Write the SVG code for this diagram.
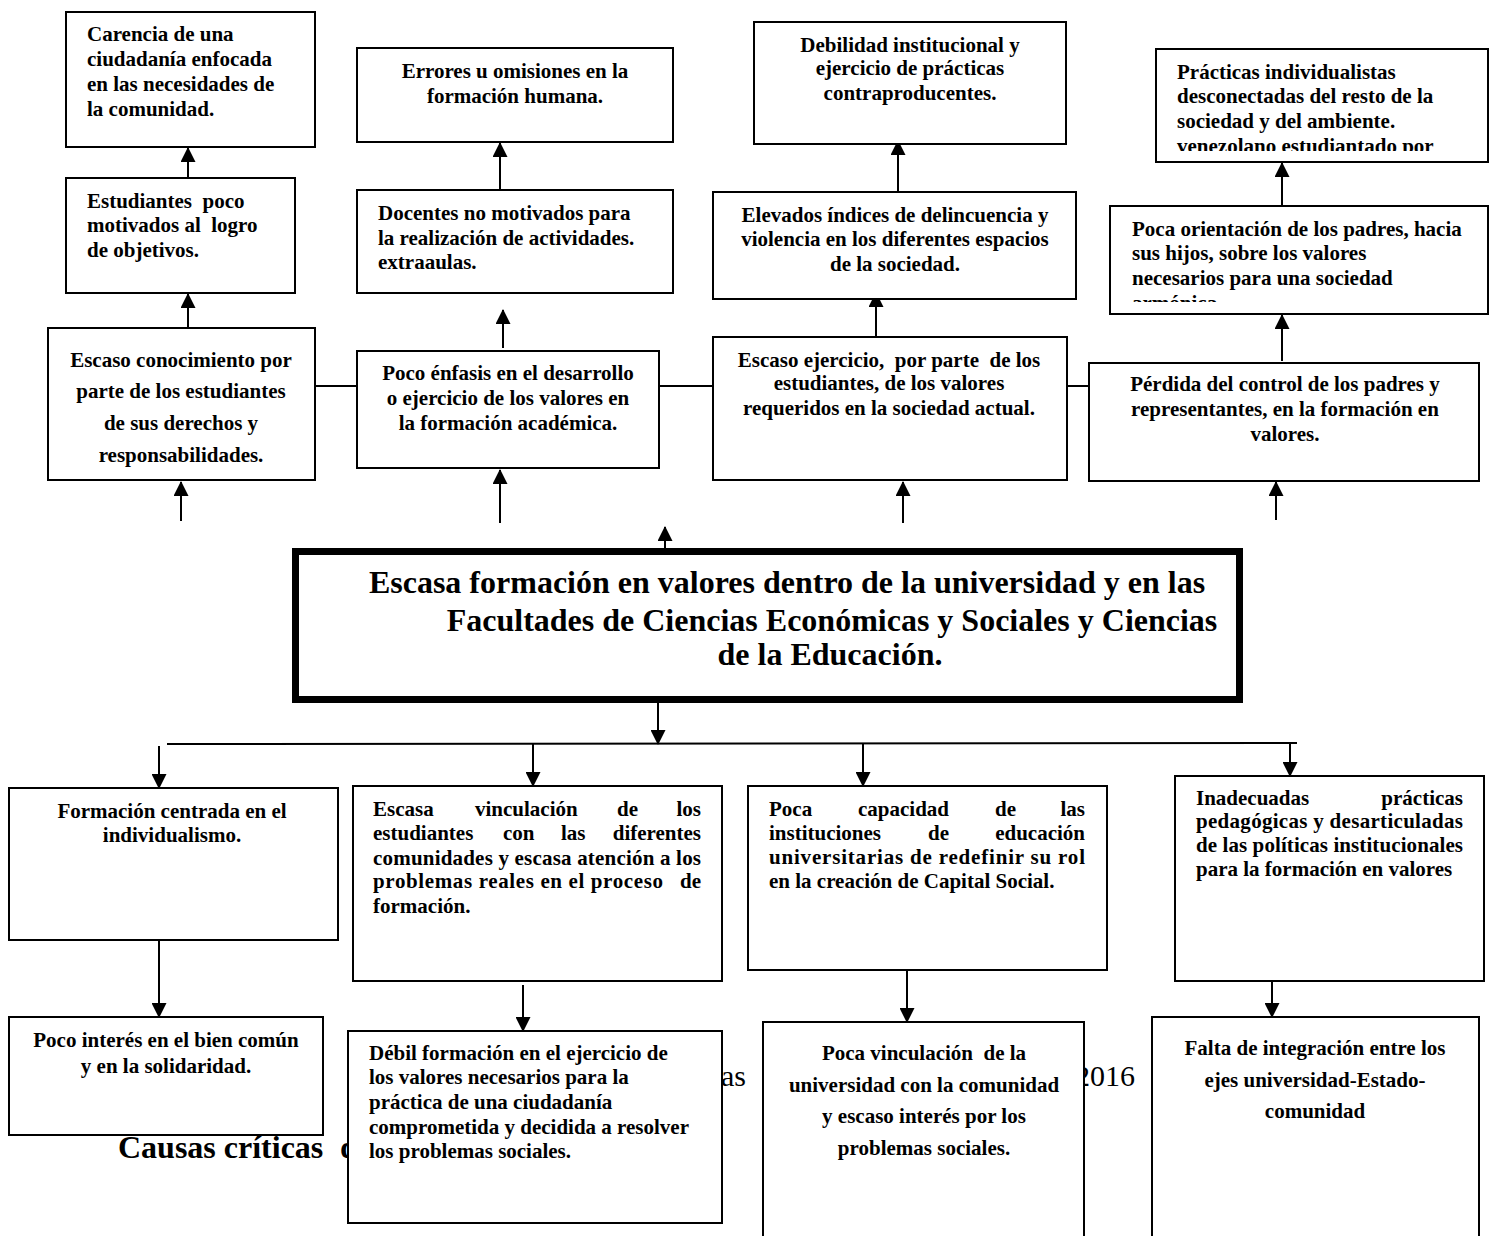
<svg xmlns="http://www.w3.org/2000/svg" width="1494" height="1236" viewBox="0 0 1494 1236">
<style>
.box{fill:#fff;stroke:#000;stroke-width:2}
.main{fill:#fff;stroke:#000;stroke-width:7}
.t{font-family:"Liberation Serif","Times New Roman",serif;font-weight:bold;font-size:21px;fill:#000}
.c{text-anchor:middle}
.e{text-anchor:end}
.big{font-family:"Liberation Serif","Times New Roman",serif;font-weight:bold;font-size:32px;fill:#000;text-anchor:middle}
.bg{font-family:"Liberation Serif","Times New Roman",serif;font-size:30px;fill:#000}
.ln{stroke:#000;stroke-width:2;fill:none}
.ar{stroke:#000;stroke-width:2;fill:none;marker-end:url(#ah)}
</style>
<defs>
<marker id="ah" markerUnits="userSpaceOnUse" markerWidth="15" markerHeight="15" refX="14" refY="7.5" orient="auto">
<path d="M0,0 L15,7.5 L0,15 z" fill="#000"/>
</marker>
<clipPath id="clipP"><rect x="1157" y="50" width="330" height="101"/></clipPath>
<clipPath id="clipO"><rect x="1111" y="207" width="376" height="95"/></clipPath>
</defs>
<rect width="1494" height="1236" fill="#fff"/>

<g id="background-text">
<text class="bg" style="font-weight:bold;font-size:32px" x="118" y="1158">Causas críticas<tspan x="340">d</tspan></text>
<text class="bg e" x="746" y="1086">as</text>
<text class="bg e" x="1135" y="1086">2016</text>
</g>

<g id="connectors">
<line class="ar" x1="188" y1="178" x2="188" y2="148"/>
<line class="ar" x1="188" y1="328" x2="188" y2="294"/>
<line class="ar" x1="181" y1="521" x2="181" y2="482"/>
<line class="ar" x1="500" y1="190" x2="500" y2="143"/>
<line class="ar" x1="503" y1="348" x2="503" y2="310"/>
<line class="ar" x1="500" y1="523" x2="500" y2="470"/>
<line class="ar" x1="898" y1="192" x2="898" y2="141"/>
<line class="ar" x1="876" y1="337" x2="876" y2="293"/>
<line class="ar" x1="903" y1="523" x2="903" y2="482"/>
<line class="ar" x1="1282" y1="205" x2="1282" y2="163"/>
<line class="ar" x1="1282" y1="361" x2="1282" y2="315"/>
<line class="ar" x1="1276" y1="520" x2="1276" y2="482"/>
<line class="ar" x1="665" y1="548" x2="665" y2="527"/>
<line class="ln" x1="315" y1="386" x2="357" y2="386"/>
<line class="ln" x1="659" y1="386" x2="713" y2="386"/>
<line class="ln" x1="1067" y1="386" x2="1089" y2="386"/>
<line class="ar" x1="658" y1="703" x2="658" y2="744"/>
<line class="ln" x1="167" y1="744" x2="1297" y2="743"/>
<line class="ar" x1="159" y1="746" x2="159" y2="788"/>
<line class="ar" x1="533" y1="744" x2="533" y2="786"/>
<line class="ar" x1="863" y1="744" x2="863" y2="786"/>
<line class="ar" x1="1290" y1="742" x2="1290" y2="776"/>
<line class="ar" x1="159" y1="940" x2="159" y2="1017"/>
<line class="ar" x1="523" y1="985" x2="523" y2="1031"/>
<line class="ar" x1="907" y1="970" x2="907" y2="1022"/>
<line class="ar" x1="1272" y1="981" x2="1272" y2="1017"/>
</g>

<g id="n-carencia">
<rect class="box" x="66" y="12" width="249" height="135"/>
<text class="t" x="87" y="41">Carencia de una</text>
<text class="t" x="87" y="66">ciudadanía enfocada</text>
<text class="t" x="87" y="91">en las necesidades de</text>
<text class="t" x="87" y="116">la comunidad.</text>
</g>
<g id="n-estudiantes">
<rect class="box" x="66" y="178" width="229" height="115"/>
<text class="t" x="87" y="208" xml:space="preserve">Estudiantes  poco</text>
<text class="t" x="87" y="232" xml:space="preserve">motivados al  logro</text>
<text class="t" x="87" y="257">de objetivos.</text>
</g>
<g id="n-escaso-conocimiento">
<rect class="box" x="48" y="328" width="267" height="152"/>
<text class="t c" x="181" y="367">Escaso conocimiento por</text>
<text class="t c" x="181" y="398">parte de los estudiantes</text>
<text class="t c" x="181" y="430">de sus derechos y</text>
<text class="t c" x="181" y="462">responsabilidades.</text>
</g>
<g id="n-errores">
<rect class="box" x="357" y="48" width="316" height="94"/>
<text class="t c" x="515" y="78">Errores u omisiones en la</text>
<text class="t c" x="515" y="103">formación humana.</text>
</g>
<g id="n-docentes">
<rect class="box" x="357" y="190" width="316" height="103"/>
<text class="t" x="378" y="220">Docentes no motivados para</text>
<text class="t" x="378" y="245">la realización de actividades.</text>
<text class="t" x="378" y="269">extraaulas.</text>
</g>
<g id="n-poco-enfasis">
<rect class="box" x="357" y="351" width="302" height="117"/>
<text class="t c" x="508" y="380">Poco énfasis en el desarrollo</text>
<text class="t c" x="508" y="405">o ejercicio de los valores en</text>
<text class="t c" x="508" y="430">la formación académica.</text>
</g>
<g id="n-debilidad">
<rect class="box" x="754" y="22" width="312" height="122"/>
<text class="t c" x="910" y="52">Debilidad institucional y</text>
<text class="t c" x="910" y="75">ejercicio de prácticas</text>
<text class="t c" x="910" y="100">contraproducentes.</text>
</g>
<g id="n-elevados">
<rect class="box" x="713" y="192" width="363" height="107"/>
<text class="t c" x="895" y="222">Elevados índices de delincuencia y</text>
<text class="t c" x="895" y="246">violencia en los diferentes espacios</text>
<text class="t c" x="895" y="271">de la sociedad.</text>
</g>
<g id="n-escaso-ejercicio">
<rect class="box" x="713" y="337" width="354" height="143"/>
<text class="t c" x="889" y="367" xml:space="preserve">Escaso ejercicio,  por parte  de los</text>
<text class="t c" x="889" y="390">estudiantes, de los valores</text>
<text class="t c" x="889" y="415">requeridos en la sociedad actual.</text>
</g>
<g id="n-practicas">
<rect class="box" x="1156" y="49" width="332" height="113"/>
<g clip-path="url(#clipP)">
<text class="t" x="1177" y="79">Prácticas individualistas</text>
<text class="t" x="1177" y="103">desconectadas del resto de la</text>
<text class="t" x="1177" y="128">sociedad y del ambiente.</text>
<text class="t" x="1177" y="153">venezolano estudiantado por</text>
</g>
</g>
<g id="n-poca-orientacion">
<rect class="box" x="1110" y="206" width="378" height="108"/>
<g clip-path="url(#clipO)">
<text class="t" x="1132" y="236">Poca orientación de los padres, hacia</text>
<text class="t" x="1132" y="260">sus hijos, sobre los valores</text>
<text class="t" x="1132" y="285">necesarios para una sociedad</text>
<text class="t" x="1132" y="310">armónica.</text>
</g>
</g>
<g id="n-perdida">
<rect class="box" x="1089" y="363" width="390" height="118"/>
<text class="t c" x="1285" y="391">Pérdida del control de los padres y</text>
<text class="t c" x="1285" y="416">representantes, en la formación en</text>
<text class="t c" x="1285" y="441">valores.</text>
</g>

<g id="n-central">
<rect class="main" x="295.5" y="551.5" width="944" height="148"/>
<text class="big" x="787" y="593">Escasa formación en valores dentro de la universidad y en las</text>
<text class="big" x="832" y="631">Facultades de Ciencias Económicas y Sociales y Ciencias</text>
<text class="big" x="830" y="665">de la Educación.</text>
</g>

<g id="n-formacion-individualismo">
<rect class="box" x="9" y="788" width="329" height="152"/>
<text class="t c" x="172" y="818">Formación centrada en el</text>
<text class="t c" x="172" y="842">individualismo.</text>
</g>
<g id="n-escasa-vinculacion">
<rect class="box" x="353" y="786" width="369" height="195"/>
<text class="t" x="373" y="816">Escasa<tspan x="475">vinculación</tspan><tspan x="617">de</tspan><tspan x="701" text-anchor="end">los</tspan></text>
<text class="t" x="373" y="840">estudiantes<tspan x="503">con</tspan><tspan x="561">las</tspan><tspan x="701" text-anchor="end">diferentes</tspan></text>
<text class="t" x="373" y="865" textLength="328">comunidades y escasa atención a los</text>
<text class="t" x="373" y="888" textLength="290">problemas reales en el proceso</text>
<text class="t e" x="701" y="888">de</text>
<text class="t" x="373" y="913">formación.</text>
</g>
<g id="n-poca-capacidad">
<rect class="box" x="748" y="786" width="359" height="184"/>
<text class="t" x="769" y="816">Poca<tspan x="858">capacidad</tspan><tspan x="995">de</tspan><tspan x="1085" text-anchor="end">las</tspan></text>
<text class="t" x="769" y="840">instituciones<tspan x="928">de</tspan><tspan x="1085" text-anchor="end">educación</tspan></text>
<text class="t" x="769" y="864" textLength="316">universitarias de redefinir su rol</text>
<text class="t" x="769" y="888">en la creación de Capital Social.</text>
</g>
<g id="n-inadecuadas">
<rect class="box" x="1175" y="776" width="309" height="205"/>
<text class="t" x="1196" y="805">Inadecuadas<tspan x="1463" text-anchor="end">prácticas</tspan></text>
<text class="t" x="1196" y="828" textLength="267">pedagógicas y desarticuladas</text>
<text class="t" x="1196" y="852" textLength="267">de las políticas institucionales</text>
<text class="t" x="1196" y="876">para la formación en valores</text>
</g>

<g id="n-poco-interes">
<rect class="box" x="9" y="1017" width="314" height="118"/>
<text class="t c" x="166" y="1047">Poco interés en el bien común</text>
<text class="t c" x="166" y="1073">y en la solidaridad.</text>
</g>
<g id="n-debil-formacion">
<rect class="box" x="348" y="1031" width="374" height="192"/>
<text class="t" x="369" y="1060">Débil formación en el ejercicio de</text>
<text class="t" x="369" y="1084">los valores necesarios para la</text>
<text class="t" x="369" y="1109">práctica de una ciudadanía</text>
<text class="t" x="369" y="1134">comprometida y decidida a resolver</text>
<text class="t" x="369" y="1158">los problemas sociales.</text>
</g>
<g id="n-poca-vinculacion">
<rect class="box" x="763" y="1022" width="321" height="240"/>
<text class="t c" x="924" y="1060" xml:space="preserve">Poca vinculación  de la</text>
<text class="t c" x="924" y="1092">universidad con la comunidad</text>
<text class="t c" x="924" y="1123">y escaso interés por los</text>
<text class="t c" x="924" y="1155">problemas sociales.</text>
</g>
<g id="n-falta-integracion">
<rect class="box" x="1152" y="1017" width="327" height="240"/>
<text class="t c" x="1315" y="1055">Falta de integración entre los</text>
<text class="t c" x="1315" y="1087">ejes universidad-Estado-</text>
<text class="t c" x="1315" y="1118">comunidad</text>
</g>
</svg>
